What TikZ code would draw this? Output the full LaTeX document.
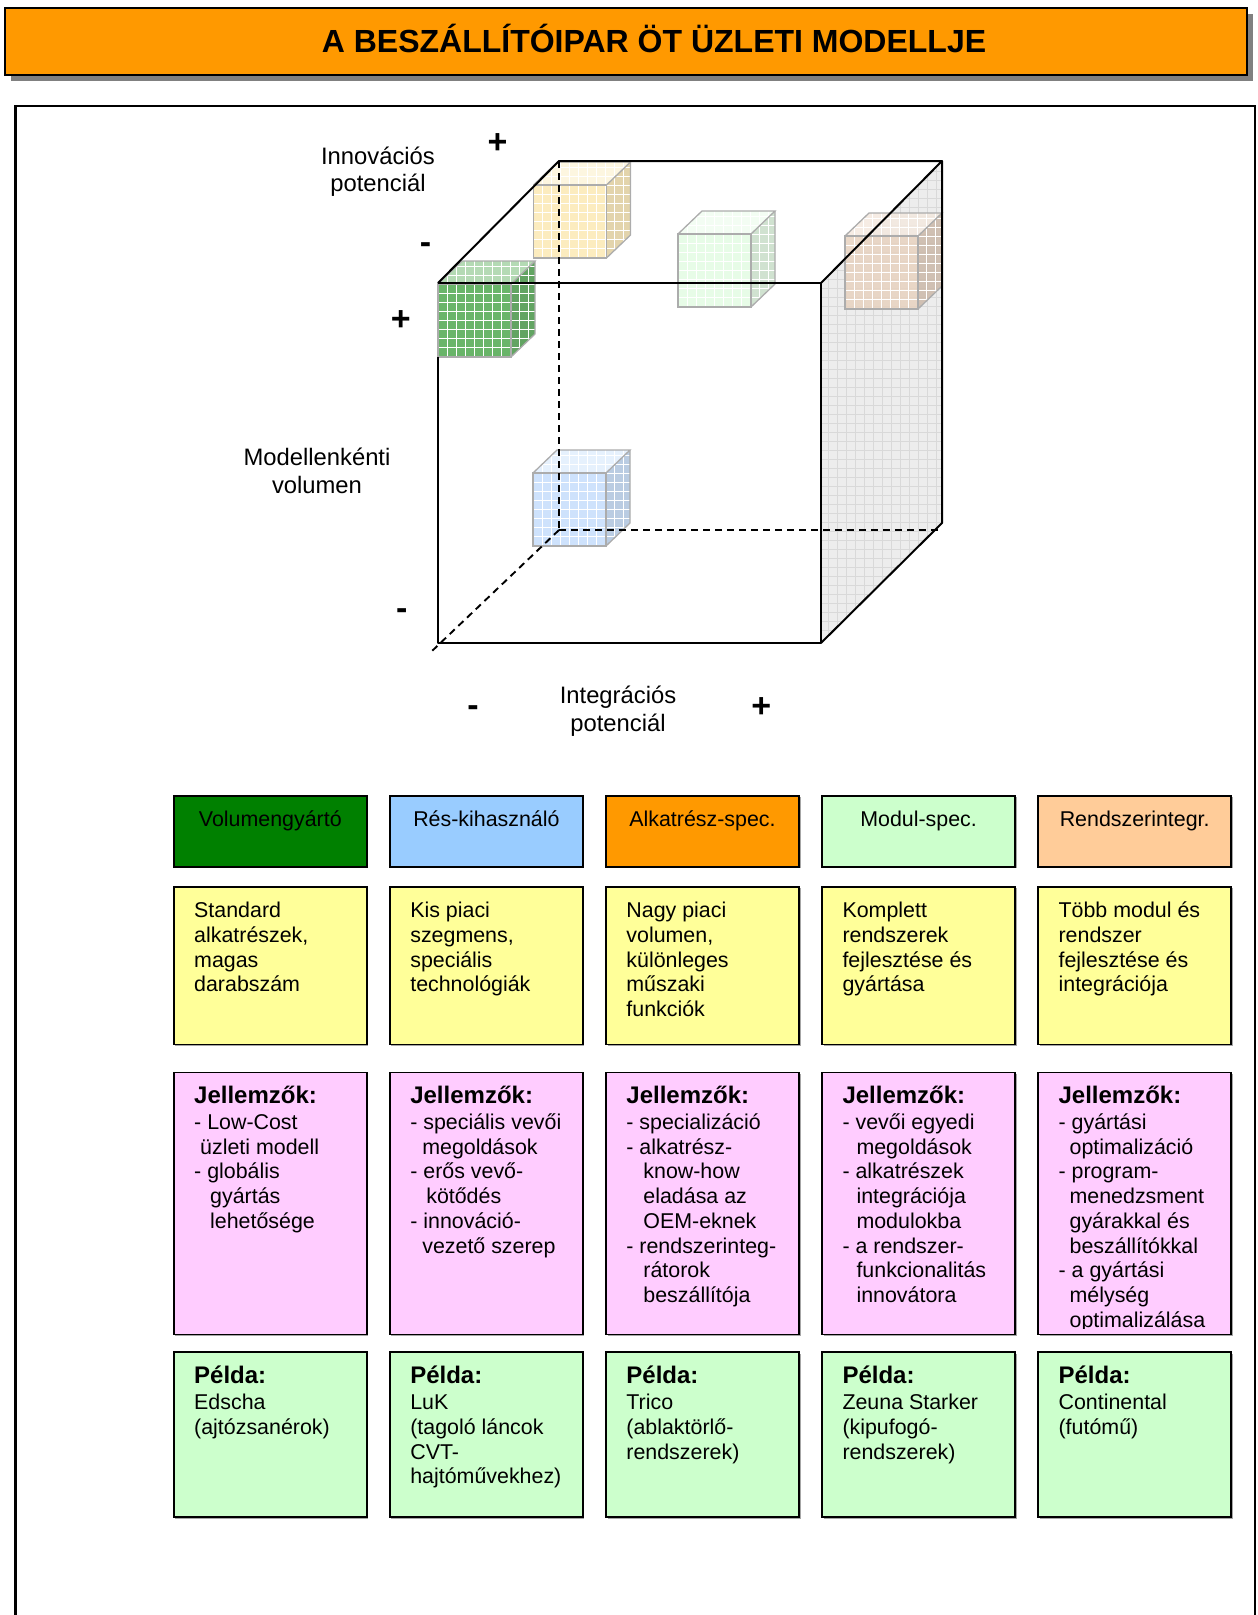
\documentclass[tikz,border=0pt]{standalone}
\usepackage{fontspec}
\setmainfont{Liberation Sans}
\usetikzlibrary{positioning,shadows}

\definecolor{titleorange}{HTML}{FF9900}
\definecolor{volgreen}{HTML}{008000}
\definecolor{nicheblue}{HTML}{99CCFF}
\definecolor{partorange}{HTML}{FF9900}
\definecolor{modgreen}{HTML}{CCFFCC}
\definecolor{syspeach}{HTML}{FFCC99}
\definecolor{descyellow}{HTML}{FFFF99}
\definecolor{featpink}{HTML}{FFCCFF}
\definecolor{examplegreen}{HTML}{CCFFCC}
% colours of the small cubes
\definecolor{cubevol}{HTML}{4FA84F}
\definecolor{cubeniche}{HTML}{C6DDFB}
\definecolor{cubepart}{HTML}{FCE9B4}
\definecolor{cubemod}{HTML}{E3FBE3}
\definecolor{cubesys}{HTML}{E8D2C0}

\newcommand{\cellfont}{\fontsize{21.4pt}{24.7pt}\selectfont}
\newcommand{\boldhead}[1]{{\fontsize{24pt}{24.7pt}\selectfont\bfseries #1}}
\newcommand{\axisfont}{\fontsize{23.8pt}{27.5pt}\selectfont}
\newcommand{\signfont}{\fontsize{34pt}{34pt}\selectfont\bfseries}
\newcommand{\titlefont}{\fontsize{32pt}{36pt}\selectfont\bfseries}
\newcommand{\cont}[1]{\hspace*{#1}}

\tikzset{
	titlebar/.style={rectangle, draw=black, line width=2pt, fill=titleorange,
		minimum width=1242pt, minimum height=67pt, inner sep=0pt,
		drop shadow={shadow xshift=6pt, shadow yshift=-6pt, fill=black!50, opacity=1}},
	cellbox/.style={rectangle, draw=black, line width=1.6pt, minimum width=193pt, inner sep=0pt,
		drop shadow={shadow xshift=1.5pt, shadow yshift=-1.5pt, fill=black!35, opacity=1}},
	headbox/.style={cellbox, minimum height=71pt},
	descbox/.style={cellbox, fill=descyellow, minimum height=157.5pt},
	featbox/.style={cellbox, fill=featpink, minimum height=262pt},
	examplebox/.style={cellbox, fill=examplegreen, minimum height=165pt},
	celltext/.style={anchor=north west, inner sep=0pt, align=left, font=\cellfont},
	headtext/.style={anchor=north, inner sep=0pt, font=\cellfont},
	axislabel/.style={align=center, inner sep=0pt, font=\axisfont},
	signmark/.style={inner sep=0pt, font=\signfont},
	cubeedge/.style={draw=gray!65, line width=1.3pt},
	edgeline/.style={line width=2pt, line join=round},
	backline/.style={line width=1.9pt, dash pattern=on 7pt off 5pt}
}

% small cube: front top-left corner, colour
\newcommand{\minicube}[3]{%
	\begin{scope}[shift={(#1,#2)}, fill opacity=0.85]
		\fill[#3] (0,0) rectangle (73,73);
		\fill[#3!50!white] (0,0) -- (24,-23) -- (97,-23) -- (73,0) -- cycle;
		\fill[#3!88!black] (73,0) -- (97,-23) -- (97,50) -- (73,73) -- cycle;
		\begin{scope}
			\clip (0,0) -- (24,-23) -- (97,-23) -- (97,50) -- (73,73) -- (0,73) -- cycle;
			\draw[white, line width=0.6pt, step=9pt] (-1,75) grid (99,-27);
		\end{scope}
		\draw[cubeedge] (0,0) rectangle (73,73);
		\draw[cubeedge] (0,0) -- (24,-23) -- (97,-23) -- (73,0);
		\draw[cubeedge] (97,-23) -- (97,50) -- (73,73);
	\end{scope}}

\begin{document}
\begin{tikzpicture}[x=1pt, y=-1pt]
	\useasboundingbox (0,0) rectangle (1258,1615);

	% title
	\node[titlebar] (titlebar) at (626,41.3) {};
	\node[font=\titlefont, anchor=base, inner sep=0pt] (titletext) at (654,52) {A BESZÁLLÍTÓIPAR ÖT ÜZLETI MODELLJE};

	% frame of the page body
	\draw[line width=2.5pt] (15.5,1625) -- (15.5,106) -- (1255,106) -- (1255,1625);

	% corners of the big cube
	\coordinate (ftl) at (438,283);
	\coordinate (ftr) at (821,283);
	\coordinate (fbl) at (438,643);
	\coordinate (fbr) at (821,643);
	\coordinate (fle) at (438,357);
	\coordinate (btl) at (559,161);
	\coordinate (btr) at (942,161);
	\coordinate (bbr) at (942,523);
	\coordinate (bbl) at (559,530);
	\coordinate (bbx) at (942,530);
	\coordinate (fbx) at (432,651);

	% shaded right face
	\fill[gray!14] (ftr) -- (btr) -- (bbr) -- (fbr) -- cycle;
	\begin{scope}
		\clip (ftr) -- (btr) -- (bbr) -- (fbr) -- cycle;
		\draw[gray!30, line width=0.6pt, step=9pt] (815,650) grid (950,155);
	\end{scope}

	% the five models
	\minicube{438}{284}{cubevol}
	\minicube{533.5}{185}{cubepart}
	\minicube{678}{234}{cubemod}
	\minicube{845}{236}{cubesys}
	\minicube{533}{473}{cubeniche}

	% hidden edges
	\draw[backline] (btl) -- (bbl);
	\draw[backline] (bbl) -- (bbx);
	\draw[backline] (bbl) -- (fbx);

	% visible edges
	\draw[edgeline] (fle) -- (fbl) -- (fbr) -- (ftr) -- (ftl);
	\draw[edgeline] (ftl) -- (btl) -- (btr) -- (ftr);
	\draw[edgeline] (btr) -- (bbr) -- (fbr);

	% axes
	\node[axislabel] (innov) at (378,171.5) {Innovációs\\potenciál};
	\node[signmark] (innov-plus) at (497.6,144) {+};
	\node[signmark] (innov-minus) at (425.5,248) {-};
	\node[axislabel] (volume) at (317,471) {Modellenkénti\\volumen};
	\node[signmark] (volume-plus) at (400.8,320.4) {+};
	\node[signmark] (volume-minus) at (401.8,614) {-};
	\node[axislabel] (integr) at (618,711.4) {Integrációs\\potenciál};
	\node[signmark] (integr-minus) at (473,711) {-};
	\node[signmark] (integr-plus) at (761.4,708) {+};

	% model names
	\node[headbox, fill=volgreen, anchor=north west] (vol) at (173,795) {};
	\node[headbox, fill=nicheblue, right=21.5pt of vol] (niche) {};
	\node[headbox, fill=partorange, right=21.5pt of niche] (part) {};
	\node[headbox, fill=modgreen, right=21.5pt of part] (mod) {};
	\node[headbox, fill=syspeach, right=21.5pt of mod] (sys) {};
	\node[headtext] (vol-t) at ([yshift=-14pt]vol.north) {\strut Volumengyártó};
	\node[headtext] (niche-t) at ([yshift=-14pt]niche.north) {\strut Rés-kihasználó};
	\node[headtext] (part-t) at ([yshift=-14pt]part.north) {\strut Alkatrész-spec.};
	\node[headtext] (mod-t) at ([yshift=-14pt]mod.north) {\strut Modul-spec.};
	\node[headtext] (sys-t) at ([yshift=-14pt]sys.north) {\strut Rendszerintegr.};

	% short descriptions
	\node[descbox, below=18.5pt of vol] (vol-d) {};
	\node[descbox, below=18.5pt of niche] (niche-d) {};
	\node[descbox, below=18.5pt of part] (part-d) {};
	\node[descbox, below=18.5pt of mod] (mod-d) {};
	\node[descbox, below=18.5pt of sys] (sys-d) {};
	\node[celltext] (vol-dt) at ([xshift=21pt, yshift=-14pt]vol-d.north west)
		{\strut Standard\\alkatrészek,\\magas\\darabszám};
	\node[celltext] (niche-dt) at ([xshift=21pt, yshift=-14pt]niche-d.north west)
		{\strut Kis piaci\\szegmens,\\speciális\\technológiák};
	\node[celltext] (part-dt) at ([xshift=21pt, yshift=-14pt]part-d.north west)
		{\strut Nagy piaci\\volumen,\\különleges\\műszaki\\funkciók};
	\node[celltext] (mod-dt) at ([xshift=21pt, yshift=-14pt]mod-d.north west)
		{\strut Komplett\\rendszerek\\fejlesztése és\\gyártása};
	\node[celltext] (sys-dt) at ([xshift=21pt, yshift=-14pt]sys-d.north west)
		{\strut Több modul és\\rendszer\\fejlesztése és\\integrációja};

	% features
	\node[featbox, below=26.5pt of vol-d] (vol-f) {};
	\node[featbox, below=26.5pt of niche-d] (niche-f) {};
	\node[featbox, below=26.5pt of part-d] (part-f) {};
	\node[featbox, below=26.5pt of mod-d] (mod-f) {};
	\node[featbox, below=26.5pt of sys-d] (sys-f) {};
	\begin{scope}
		\clip (160,1071) rectangle (1240,1328);
		\node[celltext] (vol-ft) at ([xshift=21pt, yshift=-14pt]vol-f.north west)
			{\strut\boldhead{Jellemzők:}\\[1.5pt]- Low-Cost\\\cont{6pt}üzleti modell\\- globális\\\cont{16pt}gyártás\\\cont{16pt}lehetősége};
		\node[celltext] (niche-ft) at ([xshift=21pt, yshift=-14pt]niche-f.north west)
			{\strut\boldhead{Jellemzők:}\\[1.5pt]- speciális vevői\\\cont{12pt}megoldások\\- erős vevő-\\\cont{16pt}kötődés\\- innováció-\\\cont{12pt}vezető szerep};
		\node[celltext] (part-ft) at ([xshift=21pt, yshift=-14pt]part-f.north west)
			{\strut\boldhead{Jellemzők:}\\[1.5pt]- specializáció\\- alkatrész-\\\cont{17pt}know-how\\\cont{17pt}eladása az\\\cont{17pt}OEM-eknek\\- rendszerinteg-\\\cont{17pt}rátorok\\\cont{17pt}beszállítója};
		\node[celltext] (mod-ft) at ([xshift=21pt, yshift=-14pt]mod-f.north west)
			{\strut\boldhead{Jellemzők:}\\[1.5pt]- vevői egyedi\\\cont{14pt}megoldások\\- alkatrészek\\\cont{14pt}integrációja\\\cont{14pt}modulokba\\- a rendszer-\\\cont{14pt}funkcionalitás\\\cont{14pt}innovátora};
		\node[celltext] (sys-ft) at ([xshift=21pt, yshift=-14pt]sys-f.north west)
			{\strut\boldhead{Jellemzők:}\\[1.5pt]- gyártási\\\cont{11pt}optimalizáció\\- program-\\\cont{11pt}menedzsment\\\cont{11pt}gyárakkal és\\\cont{11pt}beszállítókkal\\- a gyártási\\\cont{11pt}mélység\\\cont{11pt}optimalizálása};
	\end{scope}

	% examples
	\node[examplebox, below=16pt of vol-f] (vol-e) {};
	\node[examplebox, below=16pt of niche-f] (niche-e) {};
	\node[examplebox, below=16pt of part-f] (part-e) {};
	\node[examplebox, below=16pt of mod-f] (mod-e) {};
	\node[examplebox, below=16pt of sys-f] (sys-e) {};
	\node[celltext] (vol-et) at ([xshift=21pt, yshift=-14pt]vol-e.north west)
		{\strut\boldhead{Példa:}\\[2pt]Edscha\\(ajtózsanérok)};
	\node[celltext] (niche-et) at ([xshift=21pt, yshift=-14pt]niche-e.north west)
		{\strut\boldhead{Példa:}\\[2pt]LuK\\(tagoló láncok\\CVT-\\hajtóművekhez)};
	\node[celltext] (part-et) at ([xshift=21pt, yshift=-14pt]part-e.north west)
		{\strut\boldhead{Példa:}\\[2pt]Trico\\(ablaktörlő-\\rendszerek)};
	\node[celltext] (mod-et) at ([xshift=21pt, yshift=-14pt]mod-e.north west)
		{\strut\boldhead{Példa:}\\[2pt]Zeuna Starker\\(kipufogó-\\rendszerek)};
	\node[celltext] (sys-et) at ([xshift=21pt, yshift=-14pt]sys-e.north west)
		{\strut\boldhead{Példa:}\\[2pt]Continental\\(futómű)};
\end{tikzpicture}
\end{document}
